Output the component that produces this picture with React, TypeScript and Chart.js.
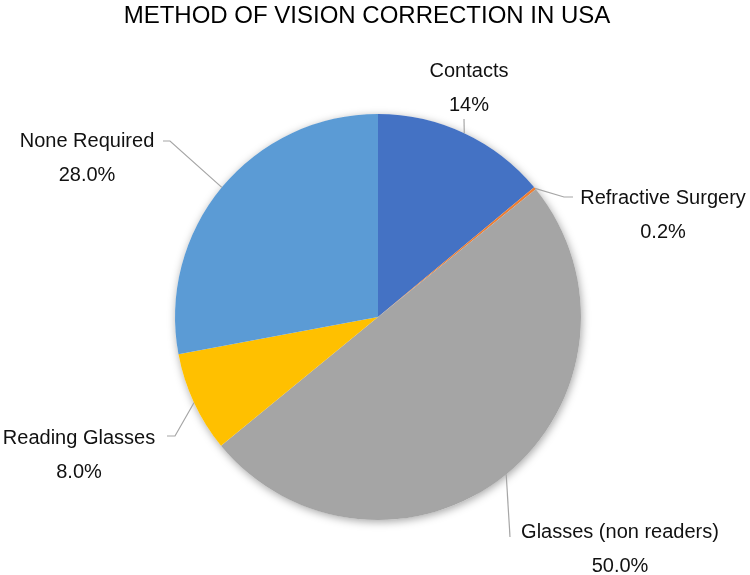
import React, { useEffect, useRef } from "react";
import { Chart, registerables } from "chart.js";

Chart.register(...registerables);

const TITLE = "METHOD OF VISION CORRECTION IN USA";
const categories = [
  "Contacts",
  "Refractive Surgery",
  "Glasses (non readers)",
  "Reading Glasses",
  "None Required",
];
const shares = [14, 0.2, 50, 8, 28];
const shareLabels = ["14%", "0.2%", "50.0%", "8.0%", "28.0%"];
const colors = ["#4472C4", "#ED7D31", "#A5A5A5", "#FFC000", "#5B9BD5"];

const FONT = "'Liberation Sans', Arial, sans-serif";

// label layout: text block center x, first-line center y, leader path (after the slice edge point)
const labelLayout: { cx: number; cy: number; path: number[][] }[] = [
  { cx: 469, cy: 71, path: [[464, 119]] },
  { cx: 663, cy: 198, path: [[564, 197], [573, 197]] },
  { cx: 620, cy: 532, path: [[510, 537]] },
  { cx: 79, cy: 438, path: [[175, 436], [167, 436]] },
  { cx: 87, cy: 141, path: [[170, 141], [163, 141]] },
];

const decor = {
  id: "decor",
  beforeDatasetsDraw(chart: any) {
    const arc: any = chart.getDatasetMeta(0).data[0];
    if (!arc) return;
    const ctx = chart.ctx;
    ctx.save();
    ctx.shadowColor = "rgba(0,0,0,0.35)";
    ctx.shadowBlur = 8;
    ctx.shadowOffsetX = 1;
    ctx.shadowOffsetY = 2;
    ctx.fillStyle = "#ffffff";
    ctx.beginPath();
    ctx.arc(arc.x, arc.y, arc.outerRadius, 0, Math.PI * 2);
    ctx.fill();
    ctx.restore();
  },
  afterDatasetsDraw(chart: any) {
    const ctx = chart.ctx;
    const meta = chart.getDatasetMeta(0);
    ctx.save();
    // title
    ctx.fillStyle = "#000000";
    ctx.font = `24px ${FONT}`;
    ctx.textAlign = "center";
    ctx.textBaseline = "middle";
    ctx.fillText(TITLE, 367, 16);

    meta.data.forEach((arc: any, i: number) => {
      const lay = labelLayout[i];
      const mid = (arc.startAngle + arc.endAngle) / 2;
      const sx = arc.x + Math.cos(mid) * arc.outerRadius;
      const sy = arc.y + Math.sin(mid) * arc.outerRadius;
      ctx.strokeStyle = "#A6A6A6";
      ctx.lineWidth = 1.2;
      ctx.beginPath();
      ctx.moveTo(sx, sy);
      lay.path.forEach((p) => ctx.lineTo(p[0], p[1]));
      ctx.stroke();

      ctx.fillStyle = "#111111";
      ctx.font = `20px ${FONT}`;
      ctx.textAlign = "center";
      ctx.textBaseline = "middle";
      ctx.fillText(categories[i], lay.cx, lay.cy);
      ctx.fillText(shareLabels[i], lay.cx, lay.cy + 34);
    });
    ctx.restore();
  },
};

export default function App() {
  const ref = useRef<HTMLCanvasElement>(null);
  useEffect(() => {
    if (!ref.current) return;
    const chart = new Chart(ref.current, {
      type: "pie",
      data: {
        labels: categories,
        datasets: [
          {
            data: shares,
            backgroundColor: colors,
            borderWidth: 0,
          },
        ],
      },
      options: {
        responsive: false,
        animation: false,
        layout: { padding: { top: 114, bottom: 55, left: 175, right: 169 } },
        plugins: {
          legend: { display: false },
          tooltip: { enabled: false },
          title: { display: false },
        },
      },
      plugins: [decor],
    });
    return () => chart.destroy();
  }, []);
  return (
    <div style={{ position: "absolute", left: 0, top: 0, width: 750, height: 575, background: "#fff" }}>
      <canvas ref={ref} width={750} height={575} style={{ display: "block" }} />
    </div>
  );
}
